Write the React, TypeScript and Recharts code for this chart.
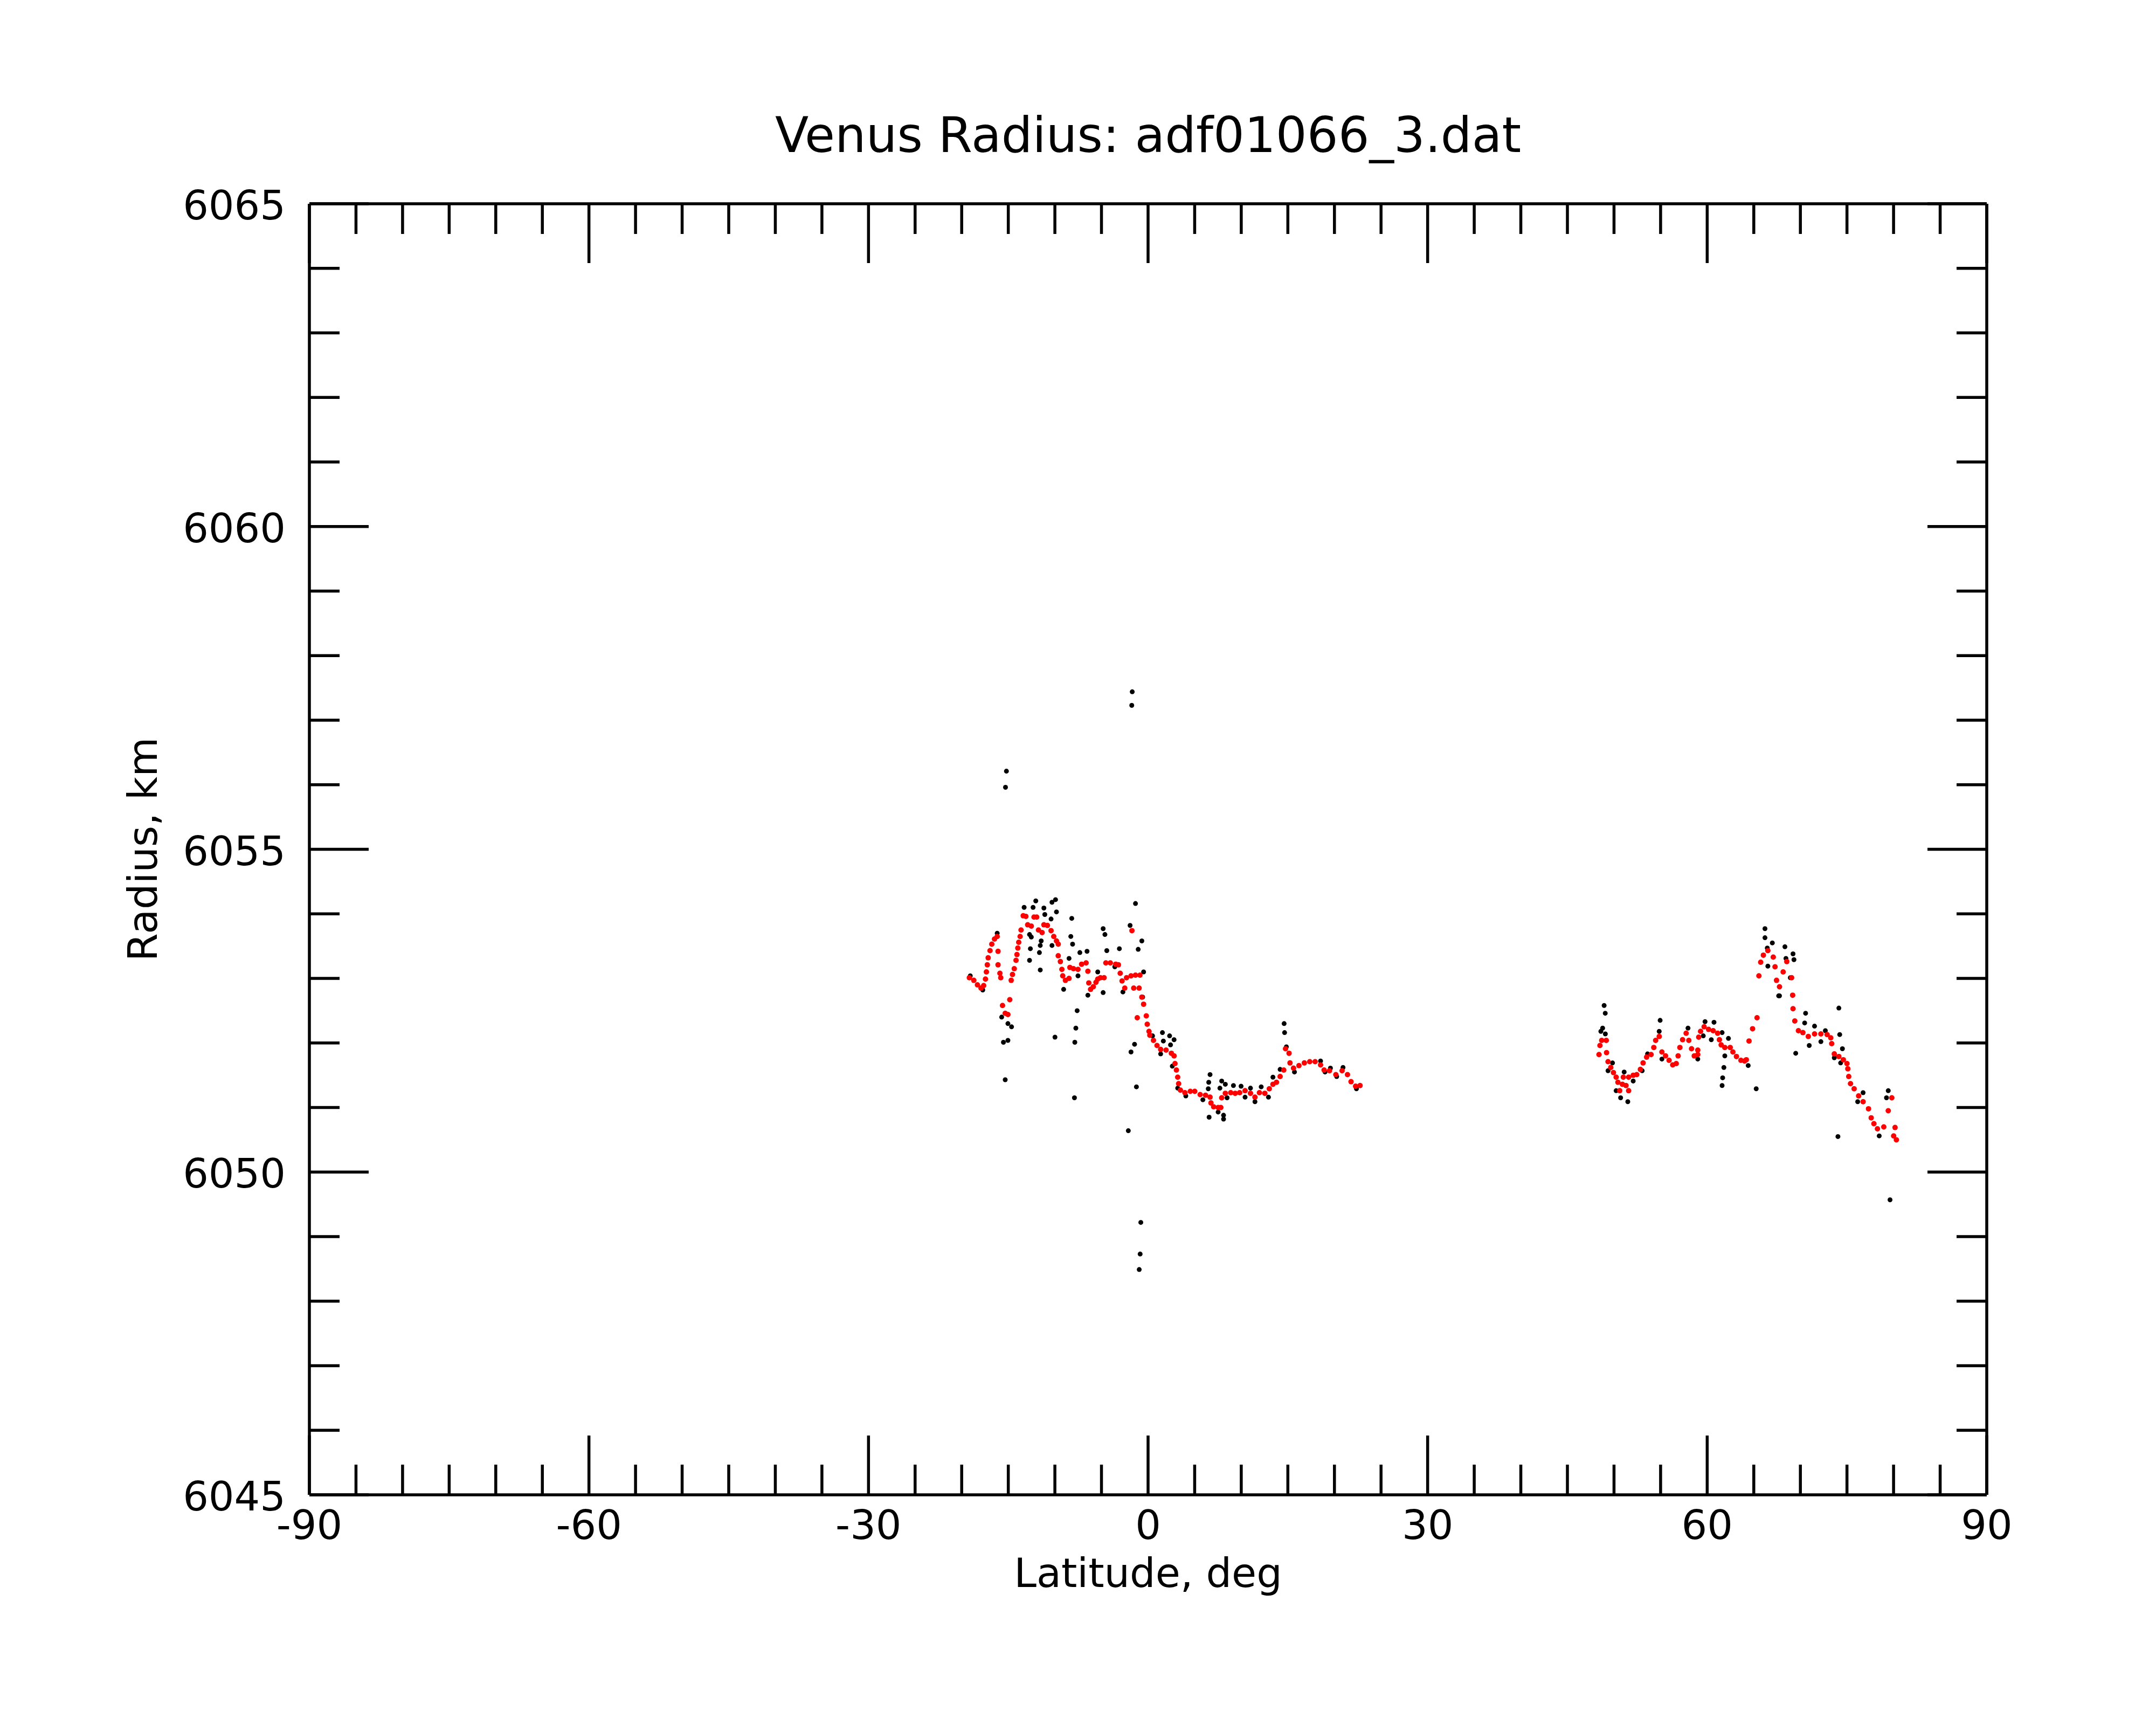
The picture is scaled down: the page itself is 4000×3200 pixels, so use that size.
import { ScatterChart, Scatter, XAxis, YAxis } from "recharts"

// raw radius samples [latitude, radius]
const rawPoints: [number, number][] = [
    // southern pass
    [-15.2, 6056.21], [-15.3, 6055.96], [-1.7, 6057.44], [-1.75, 6057.23],
    [-0.78, 6049.22], [-0.85, 6048.73], [-0.95, 6048.49], [-2.12, 6050.64],
    [-12.05, 6054.2], [-12.34, 6054.1], [-13.3, 6054.1], [-11.18, 6054.09], [-11.08, 6053.99],
    [-10.31, 6054.18], [-9.93, 6054.22], [-9.83, 6054.03], [-10.41, 6053.92], [-8.19, 6053.93],
    [-4.82, 6053.77], [-4.63, 6053.68], [-8.29, 6053.65], [-8.1, 6053.53], [-12.72, 6053.68],
    [-12.53, 6053.64], [-11.47, 6053.58], [-11.57, 6053.51], [-10.31, 6053.51], [-12.63, 6053.46],
    [-11.66, 6053.4], [-12.72, 6053.28], [-11.57, 6053.13], [-8.48, 6053.31], [-7.32, 6053.4],
    [-6.55, 6053.42], [-7.52, 6053.04], [-9.06, 6052.83], [-5.4, 6053.1], [-4.82, 6052.78],
    [-6.46, 6052.74], [-4.43, 6053.43], [-3.08, 6053.46], [-3.57, 6053.18], [-2.7, 6052.79],
    [-1.35, 6054.16], [-1.93, 6053.82], [-0.67, 6053.58], [-1.06, 6053.45], [-0.48, 6053.1],
    [-0.58, 6052.71], [-7.61, 6052.5], [-7.75, 6052.23], [-7.86, 6052.01], [-9.99, 6052.09],
    [-7.9, 6051.15], [-15.33, 6051.43], [-15.52, 6052.01], [-15.04, 6052.04], [-14.65, 6052.25],
    [-15.04, 6052.3], [-15.71, 6052.4], [-1.45, 6051.98], [-1.83, 6051.86], [-1.25, 6051.32],
    [0.48, 6052.11], [-17.74, 6052.82], [-19.08, 6053.04], [-16.19, 6053.7],
    [1.54, 6052.16], [2.31, 6052.11], [1.64, 6052.03], [2.79, 6052.05], [2.41, 6051.97],
    [1.35, 6051.83], [2.6, 6051.64], [3.18, 6051.3], [4.05, 6051.18], [5.88, 6051.12],
    [6.65, 6051.51], [6.51, 6051.39], [6.46, 6051.29], [6.55, 6050.85], [7.52, 6050.93],
    [8.1, 6050.88], [8.1, 6050.82], [7.9, 6051.41], [7.71, 6051.3], [8.29, 6051.36],
    [9.16, 6051.34], [9.98, 6051.33], [10.99, 6051.3], [12.14, 6051.32], [8.48, 6051.15],
    [10.41, 6051.16], [11.47, 6051.09], [12.92, 6051.16], [13.4, 6051.47], [14.17, 6051.59],
    [14.6, 6052.3], [14.65, 6052.16], [14.84, 6051.94], [15.71, 6051.55], [18.51, 6051.72],
    [18.99, 6051.55], [19.57, 6051.61], [20.24, 6051.48], [20.92, 6051.62], [22.36, 6051.29],
    // northern pass
    [48.94, 6052.58], [49.06, 6052.46], [48.78, 6052.23], [48.59, 6052.18], [49.07, 6052.14],
    [49.84, 6051.69], [49.36, 6051.57], [51.09, 6051.55], [52.06, 6051.41], [50.23, 6051.26],
    [50.71, 6051.15], [51.48, 6051.09], [54.95, 6052.35], [54.85, 6052.18], [53.6, 6051.83],
    [53.02, 6051.57], [55.14, 6051.75], [57.94, 6052.23], [58.99, 6051.75], [59.77, 6052.33],
    [60.73, 6052.32], [61.6, 6052.16], [62.28, 6052.07], [60.44, 6052.05], [59.58, 6052.11],
    [61.89, 6051.8], [61.79, 6051.62], [61.66, 6051.46], [61.6, 6051.34], [64.4, 6051.65],
    [65.26, 6051.29],
    [66.2, 6053.77], [66.2, 6053.63], [66.45, 6053.47], [68.45, 6053.31],
    [66.99, 6053.55], [68.34, 6053.49], [69.21, 6053.38], [69.31, 6053.29], [66.51, 6053.19],
    [67.76, 6052.73], [68.92, 6053.01], [74.13, 6052.54], [70.56, 6052.46], [70.46, 6052.31],
    [71.52, 6052.26], [72.68, 6052.19], [74.22, 6052.13], [72.2, 6052.02], [70.95, 6051.96],
    [69.5, 6051.84], [74.51, 6051.91], [74.32, 6051.69], [73.64, 6051.77], [76.73, 6051.23],
    [76.15, 6051.09], [74.03, 6050.55], [78.46, 6050.56], [79.43, 6051.26], [79.24, 6051.15],
    [79.62, 6049.57], [67.67, 6052.73],
]

// filtered radius [latitude, radius]
const smoothPoints: [number, number][] = [
    // southern pass
    [-19.18, 6053.01], [-18.7, 6052.97], [-18.31, 6052.9], [-17.93, 6052.85], [-17.64, 6052.89],
    [-17.45, 6052.99], [-17.35, 6053.1], [-17.25, 6053.21], [-17.16, 6053.32], [-16.96, 6053.43],
    [-16.77, 6053.53], [-16.48, 6053.61], [-16.19, 6053.65], [-16.1, 6053.42], [-16.1, 6053.21],
    [-15.9, 6053.08], [-15.81, 6053.01], [-15.62, 6052.58], [-15.33, 6052.46], [-15.04, 6052.44],
    [-14.84, 6052.67], [-14.69, 6052.97], [-14.55, 6053.06], [-14.36, 6053.15], [-14.17, 6053.28],
    [-14.07, 6053.37], [-13.98, 6053.47], [-13.88, 6053.56], [-13.73, 6053.65], [-13.63, 6053.75],
    [-13.4, 6053.97], [-13.11, 6053.96], [-12.92, 6053.83], [-12.53, 6053.81], [-12.24, 6053.95],
    [-11.95, 6053.95], [-11.76, 6053.75], [-11.37, 6053.71], [-11.18, 6053.83], [-10.8, 6053.82],
    [-10.41, 6053.74], [-10.12, 6053.65], [-9.83, 6053.58], [-9.64, 6053.53], [-9.64, 6053.35],
    [-9.41, 6053.26], [-9.25, 6053.14], [-9.16, 6053.04], [-8.87, 6052.97], [-8.48, 6053.0],
    [-8.39, 6053.17], [-8.0, 6053.15], [-7.52, 6053.14], [-7.13, 6053.22], [-6.65, 6053.24],
    [-6.46, 6053.11], [-6.36, 6052.93], [-6.17, 6052.83], [-5.88, 6052.87], [-5.59, 6052.94],
    [-5.4, 6052.99], [-5.11, 6053.01], [-4.72, 6053.01], [-4.53, 6053.24], [-4.05, 6053.24],
    [-3.47, 6053.22], [-3.18, 6053.21], [-2.99, 6053.08], [-2.79, 6052.96], [-2.5, 6052.85],
    [-2.31, 6053.01], [-1.83, 6053.04], [-1.35, 6053.05], [-0.87, 6053.05], [-1.73, 6053.74],
    [-1.54, 6052.85], [-0.96, 6052.85], [-0.67, 6052.71], [-0.48, 6052.6], [-0.19, 6052.42],
    [-1.16, 6052.39], [-0.09, 6052.29], [0.1, 6052.18], [0.19, 6052.12], [0.58, 6052.04],
    [0.96, 6051.96], [1.35, 6051.9], [1.93, 6051.89], [2.5, 6051.84], [2.79, 6051.8],
    [2.89, 6051.68], [3.04, 6051.58], [3.18, 6051.47], [3.28, 6051.37], [3.47, 6051.27],
    [3.95, 6051.23], [4.53, 6051.25], [5.01, 6051.25], [5.59, 6051.2], [6.17, 6051.19],
    [6.65, 6051.16], [6.75, 6051.07], [7.04, 6051.01], [7.52, 6051.0], [7.81, 6051.0],
    [7.9, 6051.15], [8.29, 6051.22], [8.87, 6051.23], [9.35, 6051.22], [9.83, 6051.23],
    [10.41, 6051.26], [10.99, 6051.22], [11.47, 6051.16], [11.95, 6051.23], [12.53, 6051.22],
    [13.01, 6051.29], [13.4, 6051.36], [13.78, 6051.39], [14.17, 6051.48], [14.56, 6051.58],
    [14.75, 6051.91], [15.13, 6051.84], [15.23, 6051.69], [15.61, 6051.61], [16.19, 6051.65],
    [16.77, 6051.69], [17.35, 6051.71], [17.93, 6051.71], [18.51, 6051.66], [18.89, 6051.58],
    [19.47, 6051.57], [20.15, 6051.51], [20.82, 6051.57], [21.4, 6051.51], [21.78, 6051.4],
    [22.27, 6051.33], [22.75, 6051.34],
    // northern pass
    [48.39, 6051.82], [48.49, 6051.96], [48.68, 6052.04], [49.17, 6052.04], [49.2, 6051.85],
    [49.36, 6051.71], [49.65, 6051.62], [49.94, 6051.54], [50.23, 6051.47], [50.42, 6051.39],
    [50.61, 6051.26], [50.9, 6051.36], [51.29, 6051.34], [51.57, 6051.26], [51.0, 6051.47],
    [51.57, 6051.47], [52.06, 6051.5], [52.44, 6051.51], [52.83, 6051.59], [53.12, 6051.69],
    [53.5, 6051.78], [53.98, 6051.82], [54.27, 6051.93], [54.47, 6052.04], [54.85, 6052.1],
    [55.14, 6051.86], [55.53, 6051.8], [55.91, 6051.73], [56.3, 6051.66], [56.68, 6051.68],
    [56.88, 6051.8], [57.07, 6051.93], [57.36, 6052.05], [57.74, 6052.15], [58.03, 6052.04],
    [58.32, 6051.91], [58.61, 6051.8], [58.99, 6051.82], [58.99, 6051.89], [59.09, 6052.09],
    [59.29, 6052.18], [59.67, 6052.25], [60.15, 6052.21], [60.64, 6052.19], [61.12, 6052.15],
    [61.31, 6052.05], [61.5, 6051.97], [61.89, 6051.93], [62.47, 6051.93], [62.76, 6051.86],
    [63.14, 6051.79], [63.62, 6051.73], [64.01, 6051.72], [64.2, 6051.74], [64.49, 6052.03],
    [64.87, 6052.22], [65.35, 6052.39], [65.55, 6053.04], [65.74, 6053.25], [66.03, 6053.36],
    [66.51, 6053.43], [67.09, 6053.33], [67.28, 6053.18], [67.44, 6052.97], [67.76, 6052.87],
    [68.15, 6053.1], [68.54, 6053.26], [69.06, 6053.01], [69.17, 6052.74], [69.21, 6052.53],
    [69.4, 6052.34], [69.79, 6052.19], [70.27, 6052.16], [70.85, 6052.1], [71.52, 6052.14],
    [72.2, 6052.14], [72.87, 6052.13], [73.26, 6052.08], [73.36, 6051.99], [73.64, 6051.83],
    [74.13, 6051.79], [74.61, 6051.74], [75.0, 6051.68], [75.09, 6051.6], [75.19, 6051.48],
    [75.38, 6051.37], [75.77, 6051.29], [76.25, 6051.18], [76.73, 6051.09], [77.31, 6050.98],
    [77.6, 6050.84], [77.89, 6050.75], [78.27, 6050.67], [78.95, 6050.7], [79.43, 6050.95],
    [79.81, 6051.15], [80.16, 6050.69], [80.01, 6050.56], [80.3, 6050.5],
]

const latTicks = [
    -90, -85, -80, -75, -70, -65, -60, -55, -50, -45, -40, -35, -30, -25, -20, -15, -10, -5, 0,
    5, 10, 15, 20, 25, 30, 35, 40, 45, 50, 55, 60, 65, 70, 75, 80, 85, 90,
]
const radiusTicks = [
    6045, 6046, 6047, 6048, 6049, 6050, 6051, 6052, 6053, 6054, 6055,
    6056, 6057, 6058, 6059, 6060, 6061, 6062, 6063, 6064, 6065,
]

const rawData = rawPoints.map(([lat, r]) => ({ lat, r }))
const smoothData = smoothPoints.map(([lat, r]) => ({ lat, r }))

const W = 4000
const H = 3200
const LEFT = 574
const RIGHT = 3686
const TOP = 378
const BOTTOM = 2773
const MAJOR = 110
const MINOR = 56
const LW = 5.5
const FONT = "DejaVu Sans"
const CX = (LEFT + RIGHT) / 2
const CY = (TOP + BOTTOM) / 2

const BottomTick = (props: any) => {
    const { x, y, payload } = props
    const major = payload.value % 30 === 0
    return (
        <g>
            <line x1={x} y1={y} x2={x} y2={y - (major ? MAJOR : MINOR)} stroke="#000" strokeWidth={LW} />
            {major && (
                <text x={x} y={y + 82} textAnchor="middle" fontFamily={FONT} fontSize={75} fill="#000">
                    {payload.value}
                </text>
            )}
        </g>
    )
}

const TopTick = (props: any) => {
    const { x, y, payload } = props
    const major = payload.value % 30 === 0
    return <line x1={x} y1={y} x2={x} y2={y + (major ? MAJOR : MINOR)} stroke="#000" strokeWidth={LW} />
}

const LeftTick = (props: any) => {
    const { x, y, payload } = props
    const major = payload.value % 5 === 0
    return (
        <g>
            <line x1={x} y1={y} x2={x + (major ? MAJOR : MINOR)} y2={y} stroke="#000" strokeWidth={LW} />
            {major && (
                <text x={x - 44} y={y + 29} textAnchor="end" fontFamily={FONT} fontSize={75} fill="#000">
                    {payload.value}
                </text>
            )}
        </g>
    )
}

const RightTick = (props: any) => {
    const { x, y, payload } = props
    const major = payload.value % 5 === 0
    return <line x1={x} y1={y} x2={x - (major ? MAJOR : MINOR)} y2={y} stroke="#000" strokeWidth={LW} />
}

const axisLine = { stroke: "#000", strokeWidth: LW }

export default function App() {
    return (
        <div style={{ position: "fixed", left: 0, top: 0, width: W, height: H, background: "#fff" }}>
            <ScatterChart
                width={W}
                height={H}
                margin={{ top: TOP - 1, left: LEFT - 1, right: W - RIGHT - 1, bottom: H - BOTTOM - 1 }}
            >
                <XAxis
                    xAxisId="bottom"
                    dataKey="lat"
                    type="number"
                    domain={[-90, 90]}
                    allowDataOverflow
                    ticks={latTicks}
                    interval={0}
                    height={1}
                    tickSize={0}
                    tickMargin={0}
                    tickLine={false}
                    axisLine={axisLine}
                    tick={BottomTick}
                />
                <XAxis
                    xAxisId="top"
                    orientation="top"
                    dataKey="lat"
                    type="number"
                    domain={[-90, 90]}
                    allowDataOverflow
                    ticks={latTicks}
                    interval={0}
                    height={1}
                    tickSize={0}
                    tickMargin={0}
                    tickLine={false}
                    axisLine={axisLine}
                    tick={TopTick}
                />
                <YAxis
                    yAxisId="left"
                    dataKey="r"
                    type="number"
                    domain={[6045, 6065]}
                    allowDataOverflow
                    ticks={radiusTicks}
                    interval={0}
                    width={1}
                    tickSize={0}
                    tickMargin={0}
                    tickLine={false}
                    axisLine={axisLine}
                    tick={LeftTick}
                />
                <YAxis
                    yAxisId="right"
                    orientation="right"
                    dataKey="r"
                    type="number"
                    domain={[6045, 6065]}
                    allowDataOverflow
                    ticks={radiusTicks}
                    interval={0}
                    width={1}
                    tickSize={0}
                    tickMargin={0}
                    tickLine={false}
                    axisLine={axisLine}
                    tick={RightTick}
                />
                <Scatter
                    data={rawData}
                    xAxisId="bottom"
                    yAxisId="left"
                    isAnimationActive={false}
                    shape={(p: any) => <circle cx={p.cx} cy={p.cy} r={4.5} fill="#000" />}
                />
                <Scatter
                    data={smoothData}
                    xAxisId="top"
                    yAxisId="right"
                    isAnimationActive={false}
                    shape={(p: any) => <circle cx={p.cx} cy={p.cy} r={5} fill="#ff0000" />}
                />
            </ScatterChart>
            <svg width={W} height={H} style={{ position: "absolute", left: 0, top: 0, pointerEvents: "none" }}>
                <text x={CX} y={282} textAnchor="middle" fontFamily={FONT} fontSize={91} fill="#000">
                    Venus Radius: adf01066_3.dat
                </text>
                <text x={CX} y={2944} textAnchor="middle" fontFamily={FONT} fontSize={75} fill="#000">
                    Latitude, deg
                </text>
                <text
                    x={291}
                    y={CY}
                    textAnchor="middle"
                    fontFamily={FONT}
                    fontSize={75}
                    fill="#000"
                    transform={`rotate(-90 291 ${CY})`}
                >
                    Radius, km
                </text>
            </svg>
        </div>
    )
}
